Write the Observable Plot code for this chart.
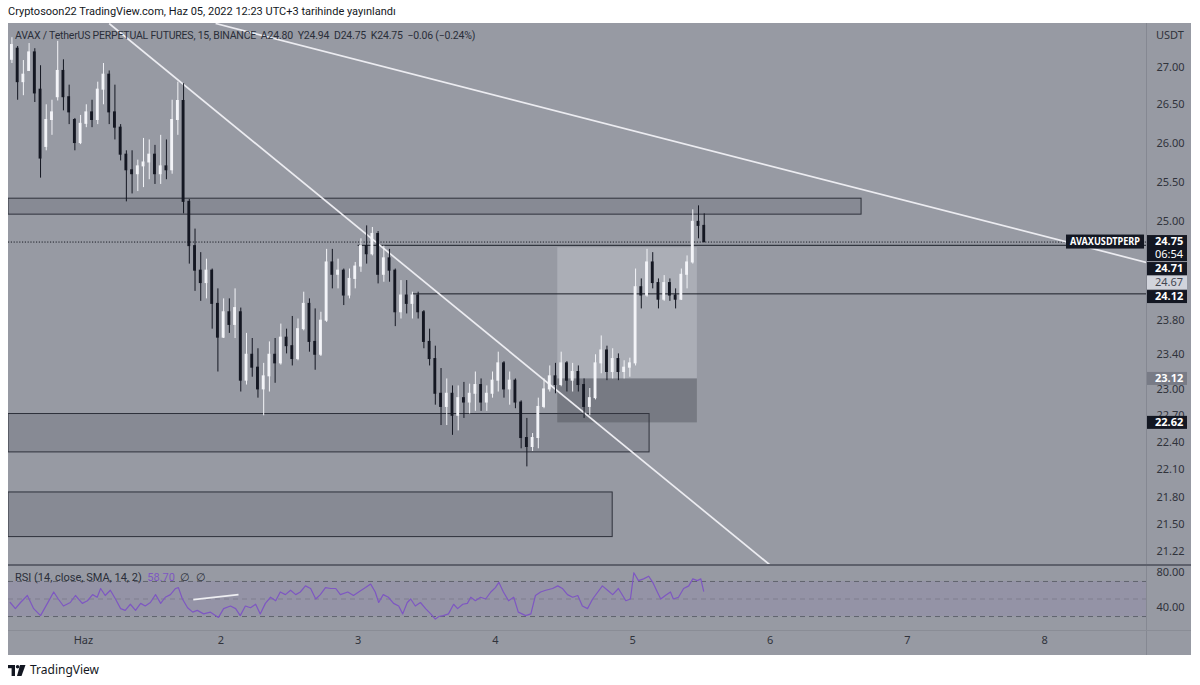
<!DOCTYPE html>
<html><head><meta charset="utf-8">
<script src="https://cdn.jsdelivr.net/npm/d3@7"></script>
<script src="https://cdn.jsdelivr.net/npm/@observablehq/plot@0.6"></script>
<style>
body{margin:0;background:#fff;width:1200px;height:685px;position:relative;overflow:hidden;font-family:"Noto Sans",sans-serif;}
#hdr{position:absolute;left:8px;top:3px;font-family:Roboto,sans-serif;font-size:11px;line-height:18px;color:#131722;white-space:nowrap;}
#frame{position:absolute;left:8px;top:23px;width:1183px;height:632px;background:#979aa3;}
#vsep{position:absolute;left:1146px;top:23px;width:1px;height:632px;background:#858892;}
#psep{position:absolute;left:8px;top:564px;width:1183px;height:2px;background:#5d606b;}
#rsep{position:absolute;left:8px;top:630px;width:1183px;height:1px;background:#8a8d96;}
#main{position:absolute;left:8px;top:23px;}
#rsi{position:absolute;left:8px;top:566px;}
#legend{position:absolute;left:15px;top:28px;font-family:Roboto,sans-serif;font-size:10.5px;letter-spacing:-0.2px;line-height:16px;color:#2a2e39;white-space:nowrap;}
#rsileg{position:absolute;left:15px;top:570px;font-family:Roboto,sans-serif;font-size:11px;line-height:16px;color:#2a2e39;white-space:nowrap;}
#rsileg .v{color:#7e57c2;}
#foot{position:absolute;left:8px;top:662px;font-size:12px;line-height:16px;color:#131722;display:flex;align-items:center;gap:4px;}
</style></head>
<body>
<div id="hdr">Cryptosoon22 TradingView.com, Haz 05, 2022 12:23 UTC+3 tarihinde yayınlandı</div>
<div id="frame"></div>
<div id="main"></div>
<div id="rsi"></div>
<div id="vsep"></div>
<div id="psep"></div>
<div id="rsep"></div>
<div id="legend">AVAX / TetherUS PERPETUAL FUTURES, 15, BINANCE&nbsp; A24.80&nbsp; Y24.94&nbsp; D24.75&nbsp; K24.75&nbsp; −0.06 (−0.24%)</div>
<div id="rsileg">RSI (14, close, SMA, 14, 2)&nbsp; <span class="v">58.70</span>&nbsp; ∅&nbsp; ∅</div>
<div id="foot"><svg width="18" height="11" viewBox="0 0 18 11"><rect x="0" y="0" width="7" height="3.2" fill="#131722"/><rect x="3.6" y="0" width="3.4" height="11" fill="#131722"/><circle cx="9.6" cy="1.8" r="1.8" fill="#131722"/><polygon points="12,0 17.5,0 13.5,11 9,11" fill="#131722"/></svg><span>TradingView</span></div>
<script>
// ---- candle data (hourly, hours from 1 June 00:00) ----
const candleStart = -13;
const open  = [27.10,27.25,26.80,26.95,27.20,26.70,25.95,26.30,26.60,26.95,26.60,26.30,26.00,
 26.25,26.40,26.30,26.70,26.90,26.40,26.20,25.85,25.65,25.60,25.70,25.75,25.85,25.60,25.70,25.65,26.30,26.55,25.25,24.70,24.40,24.25,24.40,24.00,
 23.60,23.90,23.75,23.90,23.10,23.40,23.25,23.00,23.15,23.40,23.30,23.60,23.50,23.35,23.70,24.00,23.55,23.40,23.80,24.50,24.35,24.40,24.10,24.30,
 24.45,24.70,24.60,24.85,24.35,24.55,24.40,23.90,24.10,24.00,24.10,23.90,23.55,23.35,22.95,22.80,22.95,22.70,22.90,22.85,22.95,23.05,22.85,22.95,
 23.10,23.30,23.00,23.10,22.85,22.45,22.35,22.45,22.80,23.00,23.15,23.05,23.30,23.10,23.20,23.05,22.80,22.90,23.30,23.45,23.20,23.35,23.20,23.25,
 23.30,24.20,24.10,24.50,24.25,24.05,24.25,24.10,24.05,24.35,24.50,25.00,24.95];
const high  = [27.40,27.28,27.09,27.32,27.25,27.02,26.50,26.56,27.35,27.10,26.76,26.32,26.36,
 26.50,26.56,26.80,27.05,26.95,26.76,26.24,25.90,25.90,25.78,26.06,26.04,25.97,26.10,26.04,26.56,26.80,26.78,25.28,24.91,24.62,24.54,24.42,24.18,
 24.06,24.06,24.18,23.95,23.65,23.59,23.47,23.30,23.55,23.59,23.76,23.70,23.85,23.82,24.14,24.06,23.94,23.90,24.66,24.66,24.54,24.42,24.42,24.50,
 24.79,24.95,24.93,24.88,24.70,24.66,24.42,24.28,24.28,24.14,24.14,23.92,23.70,23.50,23.24,23.12,23.04,23.04,23.08,23.06,23.20,23.12,23.04,23.20,
 23.43,23.32,23.20,23.12,22.87,22.67,22.50,22.90,23.12,23.27,23.30,23.43,23.32,23.30,23.27,23.12,23.01,23.40,23.62,23.50,23.47,23.41,23.33,23.36,
 24.42,24.30,24.66,24.62,24.30,24.34,24.30,24.18,24.42,24.58,25.15,25.20,25.10];
const low   = [27.05,26.56,26.62,26.95,26.53,25.55,25.90,26.10,26.55,26.42,26.24,25.90,25.98,
 26.20,26.20,26.24,26.50,26.24,26.04,25.77,25.25,25.35,25.38,25.43,25.53,25.47,25.47,25.53,25.60,26.10,25.10,24.48,24.15,24.03,24.06,23.70,23.20,
 23.59,23.65,23.59,22.97,23.05,23.14,22.90,22.70,22.97,23.07,23.28,23.41,23.27,23.33,23.68,23.43,23.22,23.38,23.78,24.18,24.18,23.98,24.06,24.18,
 24.38,24.48,24.58,24.24,24.26,24.26,23.73,23.82,23.88,23.82,23.82,23.47,23.27,22.82,22.59,22.59,22.48,22.53,22.67,22.72,22.75,22.75,22.75,22.90,
 22.97,22.90,22.82,22.78,22.33,22.13,22.30,22.33,22.78,22.97,22.95,23.03,22.97,22.97,22.97,22.67,22.70,22.88,23.18,23.10,23.12,23.10,23.12,23.14,
 23.27,23.94,24.08,24.18,23.94,24.03,24.03,23.94,24.04,24.18,24.48,24.79,24.74];
const close = [27.30,26.80,26.90,27.20,26.65,25.80,26.30,26.40,26.95,26.60,26.40,26.00,26.25,
 26.40,26.30,26.70,26.90,26.40,26.20,25.85,25.65,25.60,25.70,25.75,25.85,25.60,25.70,25.65,26.30,26.55,25.25,24.70,24.40,24.25,24.40,24.00,23.60,
 23.90,23.75,23.95,23.10,23.40,23.25,23.00,23.15,23.40,23.30,23.60,23.50,23.35,23.70,24.00,23.55,23.40,23.80,24.50,24.35,24.40,24.10,24.30,24.45,
 24.70,24.60,24.85,24.35,24.55,24.40,23.90,24.10,24.00,24.10,23.90,23.55,23.35,22.95,22.80,22.95,22.70,22.90,22.85,22.95,23.05,22.85,22.95,23.10,
 23.30,23.00,23.10,22.85,22.45,22.35,22.45,22.80,23.00,23.15,23.05,23.30,23.10,23.20,23.05,22.80,22.90,23.30,23.45,23.20,23.35,23.20,23.25,23.30,
 24.20,24.10,24.50,24.25,24.05,24.25,24.10,24.05,24.35,24.50,25.00,24.95,24.75];

// ---- RSI samples ----
const rsiT = [-12.8,-11.9,-11.0,-9.8,-8.7,-7.5,-6.3,-5.2,-4.4,-3.5,-2.3,-1.4,-0.2,0.7,1.6,2.4,3.0,3.8,4.7,5.6,
 6.5,7.3,8.2,9.1,10.0,10.8,11.7,12.6,13.5,14.3,15.2,16.1,16.6,17.3,18.2,19.1,19.9,21.0,22.2,23.6,
 24.5,25.7,26.6,27.4,28.3,29.2,30.1,30.9,31.8,32.7,33.6,34.4,35.3,36.2,37.1,37.9,38.8,39.7,40.6,41.4,
 42.3,43.2,44.1,44.9,46.2,47.2,48.1,
 49.3,50.2,51.0,51.6,52.4,53.3,54.2,55.1,55.8,56.6,57.2,58.0,58.9,59.8,60.7,61.5,62.1,62.9,63.8,64.7,
 65.4,66.3,67.1,67.7,68.5,69.4,70.3,71.2,72.0,72.6,73.4,74.3,75.2,76.0,77.3,78.2,79.0,79.9,80.8,82.0,
 82.9,83.7,84.6,85.5,86.4,87.2,88.1,89.0,89.9,90.7,91.6,92.5,93.5,94.8,95.6,96.2,97.0,97.9,98.8,99.5,
 100.3,100.9,101.7,102.6,103.1,104.0,104.9,105.8,106.5,107.3,107.9,108.4];
const rsiV = [46,39,46,54,39,31,45,58,50,42,46,54,45,48,55,52,62,54,60,50,
 39,37,44,37,45,42,46,55,45,52,55,62,63,50,40,35,37,33,35,29,
 39,42,39,31,42,40,44,33,45,52,48,58,55,60,55,58,65,62,50,55,
 63,62,62,55,58,54,58,
 63,67,58,46,55,52,45,42,33,46,50,42,46,39,33,27,30,31,33,44,
 39,44,45,52,48,52,50,58,63,69,58,48,52,35,31,33,54,58,60,62,
 65,62,55,52,54,42,39,50,58,65,60,55,62,48,50,80,71,73,76,69,
 58,50,54,58,50,52,62,65,73,71,73,59];

// ---- axes ----
const priceTicks = [27.00,26.50,26.00,25.50,25.00,23.80,23.40,23.00,22.70,22.40,22.10,21.80,21.50,21.22];
const rsiTicks = [80,40];
const dayTicks = [0,24,48,72,96,120,144,168];
const dayLabels = ["Haz","2","3","4","5","6","7","8"];

// ---- drawings ----
const zoneStart = [-13.1,-13.1,-13.1];
const zoneEnd   = [136.0,98.95,92.5];
const zoneLow   = [25.09,22.29,21.37];
const zoneHigh  = [25.29,22.72,21.85];
const posStart = 82.9, posEnd = 107.3;
const posTarget = 24.68, posEntry = 23.12, posStop = 22.62;
const trendT1 = [4.5,23.1], trendP1 = [27.594,27.594];
const trendT2 = [120.1,185.8], trendP2 = [21.07,24.50];
const lastPrice = 24.75;
const levelPrice = [24.71,24.12];
const levelFrom  = [48.0,57.5];
const rsiLineT = [19.2,27.1], rsiLineV = [49.4,55.1];
const labelPrice = [24.75,24.71,24.67,24.12,23.12,22.62];
const labelLines = [["24.75","06:54"],["24.71"],["24.67"],["24.12"],["23.12"],["22.62"]];
const labelBg = ["#131722","#131722","#d1d4dc","#131722","#787b86","#131722"];
const labelFg = ["#fff","#fff","#434651","#fff","#fff","#fff"];
const labelBold = [true,true,false,true,true,true];

const T0 = -13.1, T1 = 185.8, W = 1183, AXW = 45;
const UP = "#f3f4f8", DOWN = "#141722";

const candles = open.map((o,i)=>({t:candleStart+i,o,h:high[i],l:low[i],c:close[i]}));
const zones = zoneStart.map((s,i)=>({t1:s,t2:zoneEnd[i],lo:zoneLow[i],hi:zoneHigh[i]}));
const trends = trendT1.map((t,i)=>({t1:t,p1:trendP1[i],t2:trendT2[i],p2:trendP2[i]}));
const levels = levelPrice.map((p,i)=>({p,t:levelFrom[i]}));
const rsi = rsiT.map((t,i)=>({t,v:rsiV[i]}));

const main = Plot.plot({
  width: W, height: 542, marginLeft: 0, marginTop: 0, marginBottom: 0, marginRight: AXW,
  style: {background: "transparent", fontFamily: "Noto Sans", fontSize: "11px", color: "#30333b", overflow: "visible"},
  x: {domain: [T0, T1], axis: null},
  y: {type: "log", domain: [21.07, 27.594], axis: null},
  marks: [
    Plot.rect(zones, {x1:"t1", x2:"t2", y1:"lo", y2:"hi", fill:"#4a4d58", fillOpacity:0.2, stroke:"#2e313b", strokeWidth:1, clip:true}),
    Plot.rect([{}], {x1:posStart, x2:posEnd, y1:posEntry, y2:posTarget, fill:"#d6d8de", fillOpacity:0.33}),
    Plot.rect([{}], {x1:posStart, x2:posEnd, y1:posStop, y2:posEntry, fill:"#3b3e48", fillOpacity:0.35}),
    Plot.ruleY([lastPrice], {x1:T0, x2:T1, stroke:"#1b1e27", strokeDasharray:"1.2,1.6", strokeWidth:1}),
    Plot.ruleY(levels, {y:"p", x1:"t", x2:T1, stroke:"#1b1e27", strokeWidth:1}),
    Plot.link(trends, {x1:"t1", y1:"p1", x2:"t2", y2:"p2", stroke:"#ececf1", strokeWidth:1.7, clip:true}),
    Plot.ruleX(candles, {x: d=>d.t+0.5, y1:"l", y2:"h", stroke: d=>d.c>=d.o?UP:DOWN, strokeWidth:1}),
    Plot.rect(candles, {x1: d=>d.t+0.25, x2: d=>d.t+0.75, y1:"o", y2:"c", fill: d=>d.c>=d.o?UP:DOWN, insetTop:-0.5, insetBottom:-0.5}),
    Plot.axisY(priceTicks, {anchor:"right", tickSize:0, tickPadding:10, tickFormat:d=>d.toFixed(2), fontSize:11, label:null})
  ]
});
document.getElementById("main").append(main);

// price labels on the axis, positioned by the y scale
const yS = main.scale("y");
const g = d3.select(main).append("g").attr("font-family","Noto Sans").attr("font-size",11).attr("text-anchor","start");
g.append("text").attr("x", W-AXW+10).attr("y", 12).attr("dy","0.35em").attr("fill","#30333b").text("USDT");
const yLast = yS.apply(lastPrice);
g.append("rect").attr("x", W-AXW-80).attr("y", yLast-7).attr("width", 78).attr("height", 14).attr("fill","#131722");
g.append("text").attr("x", W-AXW-76).attr("y", yLast).attr("dy","0.35em")
  .attr("textLength", 70).attr("lengthAdjust","spacingAndGlyphs")
  .attr("fill","#fff").attr("font-weight","bold").attr("font-size",10).text("AVAXUSDTPERP");
let prevBottom = -Infinity;
labelPrice.forEach((p,i)=>{
  const lines = labelLines[i], h = 13*lines.length;
  const top = Math.max(yS.apply(p)-6.5, prevBottom+1);
  prevBottom = top+h;
  g.append("rect").attr("x", W-AXW+1).attr("y", top).attr("width", 40).attr("height", h).attr("fill", labelBg[i]);
  lines.forEach((s,j)=>g.append("text").attr("x", W-AXW+9).attr("y", top+6.5+13*j).attr("dy","0.35em")
    .attr("fill", labelFg[i]).attr("font-weight", (j===0 && labelBold[i])?"bold":"normal").text(s));
});

const rsiPlot = Plot.plot({
  width: W, height: 90, marginLeft: 0, marginTop: 0, marginBottom: 25, marginRight: AXW,
  style: {background: "transparent", fontFamily: "Noto Sans", fontSize: "11px", color: "#30333b", overflow: "visible"},
  x: {domain: [T0, T1], axis: null},
  y: {domain: [12.9, 87.1], axis: null},
  marks: [
    Plot.rect([{}], {x1:T0, x2:T1, y1:30, y2:70, fill:"#7e57c2", fillOpacity:0.1}),
    Plot.ruleY([70,30], {stroke:"#61646e", strokeDasharray:"5,4", strokeWidth:1}),
    Plot.ruleY([50], {stroke:"#61646e", strokeOpacity:0.45, strokeDasharray:"5,4", strokeWidth:1}),
    Plot.line(rsi, {x:"t", y:"v", stroke:"#7e57c2", strokeWidth:1.2}),
    Plot.link([{}], {x1:rsiLineT[0], y1:rsiLineV[0], x2:rsiLineT[1], y2:rsiLineV[1], stroke:"#eeeef2", strokeWidth:1.8}),
    Plot.axisY(rsiTicks, {anchor:"right", tickSize:0, tickPadding:10, tickFormat:d=>d.toFixed(2), fontSize:11, label:null}),
    Plot.text(dayTicks, {x:d=>d, text:(d,i)=>dayLabels[i], frameAnchor:"bottom", dy:12, fontSize:11, fill:"#30333b"})
  ]
});
document.getElementById("rsi").append(rsiPlot);
</script>
</body></html>
